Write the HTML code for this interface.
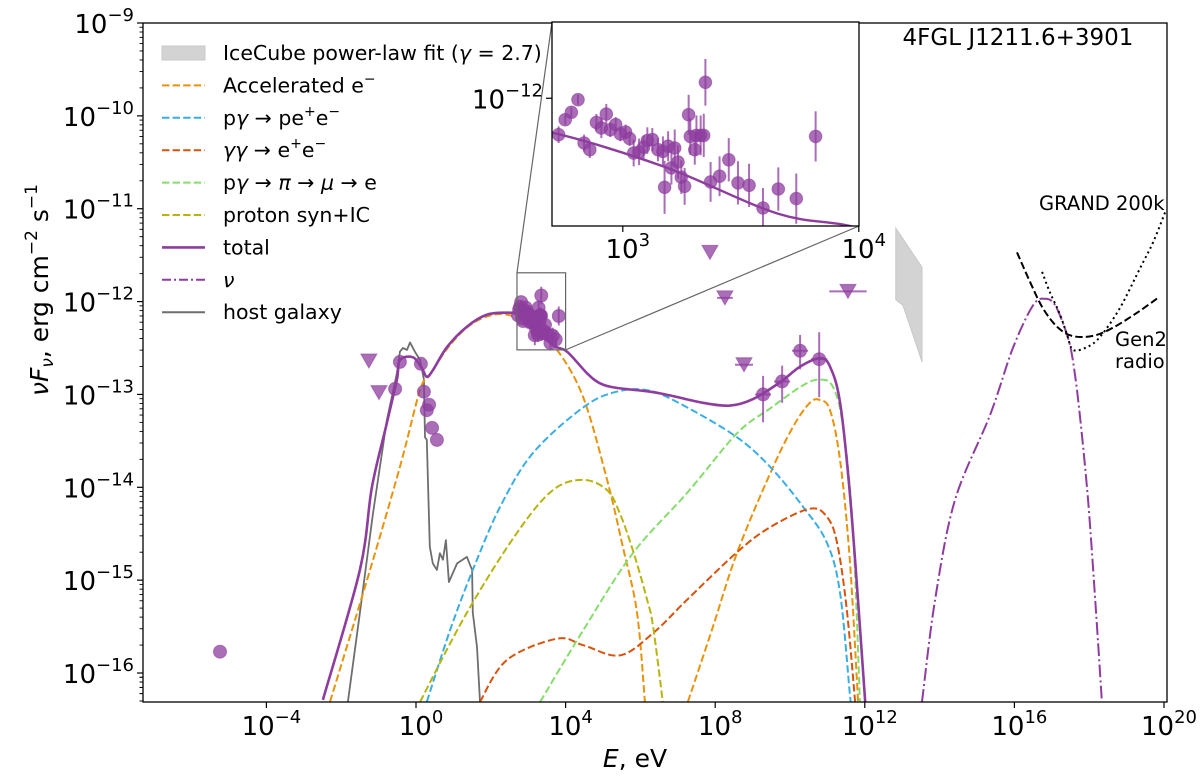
<!DOCTYPE html>
<html><head><meta charset="utf-8"><title>SED 4FGL J1211.6+3901</title>
<style>
html,body{margin:0;padding:0;background:#fff;overflow:hidden;width:1200px;height:784px;}
svg{display:block;overflow:hidden;font-family:"DejaVu Sans","Liberation Sans",sans-serif;}
</style></head>
<body>
<svg id="chart" width="1200" height="784" viewBox="0 0 1200 784" xmlns="http://www.w3.org/2000/svg">
<defs>
<clipPath id="mainClip"><rect x="143" y="23" width="1024" height="679"/></clipPath>
<clipPath id="insetClip"><rect x="552" y="22" width="307" height="204"/></clipPath>
</defs>
<rect x="0" y="0" width="1200" height="784" fill="#fff"/>
<g id="main" clip-path="url(#mainClip)"></g>
<g id="axes"></g>
<g id="legend"></g>
<g id="inset"></g>
</svg>
<script>
// ---------- data (log10 E [eV], log10 νFν [erg cm^-2 s^-1]) ----------
const totalE = [-2.49,-1.50,-1.18,-0.78,-0.51,-0.43,-0.08,0.16,0.29,0.45,0.83,1.36,1.90,2.43,2.70,3.18,3.66,4.04,4.57,4.92,5.37,6.26,6.79,7.67,8.40,9.01,9.73,10.27,10.80,11.07,11.34,11.60,11.87,12.01];
const totalF = [-16.29,-14.89,-14.00,-13.31,-12.84,-12.63,-12.60,-12.72,-12.81,-12.74,-12.49,-12.27,-12.14,-12.12,-12.14,-12.28,-12.47,-12.54,-12.77,-12.88,-12.93,-12.97,-13.01,-13.09,-13.12,-13.05,-12.87,-12.70,-12.61,-12.70,-13.09,-14.06,-15.50,-16.31];
const pairE = [0.29,0.91,1.52,2.25,3.13,4.47,5.37,6.26,7.25,8.58,9.47,10.35,10.99,11.34,11.60,11.63];
const pairF = [-16.31,-15.54,-14.89,-14.21,-13.63,-13.14,-12.97,-12.96,-13.14,-13.46,-13.78,-14.21,-14.60,-15.14,-16.22,-16.31];
const acc1E = [-2.30,-1.31,-0.43,0.11,0.37,0.83,1.36,1.90,2.43,3.05,3.77,4.47,5.11,5.53,5.91,6.12];
const acc1F = [-16.31,-15.00,-13.78,-12.95,-12.79,-12.51,-12.28,-12.16,-12.14,-12.25,-12.52,-13.03,-13.92,-14.64,-15.35,-16.31];
const acc2E = [7.27,7.94,8.58,9.47,10.08,10.53,10.80,11.07,11.34,11.60,11.82];
const acc2F = [-16.31,-15.50,-14.71,-13.85,-13.35,-13.09,-13.06,-13.17,-13.71,-14.78,-16.31];
const protE = [0.11,1.36,2.70,3.66,4.47,5.11,5.45,5.80,6.18,6.34,6.60];
const protF = [-16.31,-15.35,-14.49,-14.03,-13.92,-14.03,-14.28,-14.68,-15.21,-15.50,-16.31];
const pionE = [3.32,4.47,5.80,7.25,8.58,9.47,10.35,10.80,11.15,11.42,11.68,11.87];
const pionF = [-16.31,-15.54,-14.71,-14.06,-13.42,-13.15,-12.90,-12.84,-12.92,-13.35,-14.43,-16.31];
const ggE = [1.71,2.43,3.77,4.47,5.45,6.34,7.25,8.58,9.47,10.53,10.99,11.26,11.52,11.74];
const ggF = [-16.31,-15.86,-15.63,-15.70,-15.81,-15.57,-15.21,-14.70,-14.43,-14.23,-14.32,-14.60,-15.32,-16.31];
const hostE = [-1.82,-1.50,-1.15,-0.78,-0.51,-0.43,-0.35,-0.24,-0.16,-0.03,0.11,0.21,0.24,0.29,0.37,0.45,0.56,0.64,0.72,0.80,0.88,1.10,1.36,1.50,1.52,1.63,1.71];
const hostF = [-16.31,-15.35,-14.28,-13.28,-12.77,-12.54,-12.50,-12.52,-12.44,-12.54,-12.63,-12.84,-13.46,-13.49,-14.64,-14.82,-14.89,-14.71,-14.78,-14.57,-15.02,-14.82,-14.75,-14.89,-15.35,-15.72,-16.31];
const nuE = [13.53,13.88,14.41,15.35,15.96,16.50,16.82,17.09,17.41,17.57,17.75,17.97,18.16,18.34];
const nuF = [-16.31,-15.21,-14.14,-13.22,-12.50,-12.04,-11.97,-12.04,-12.36,-12.65,-13.22,-14.14,-15.21,-16.31];
const gen2E = [16.07,16.42,16.76,17.14,17.54,18.10,18.64,19.28,19.84];
const gen2F = [-11.47,-11.79,-12.07,-12.27,-12.37,-12.37,-12.28,-12.12,-11.96];
const grandE = [16.74,16.95,17.22,17.41,17.57,17.94,18.29,18.82,19.36,19.71,20.03];
const grandF = [-11.68,-11.90,-12.14,-12.36,-12.52,-12.49,-12.38,-12.07,-11.64,-11.36,-11.04];
const iceE = [12.83,13.53,13.53,13.29,13.02,12.83];
const iceF = [-11.21,-11.63,-12.65,-12.36,-12.04,-11.98];
// X-ray (inset) points
const xrE = [2.728,2.756,2.782,2.810,2.836,2.860,2.888,2.909,2.930,2.947,2.970,2.990,3.012,3.029,3.046,3.069,3.088,3.104,3.125,3.149,3.170,3.177,3.192,3.206,3.220,3.234,3.248,3.262,3.279,3.286,3.305,3.312,3.330,3.343,3.350,3.372,3.410,3.449,3.488,3.535,3.594,3.659,3.735,3.817];
const xrF = [-12.148,-12.087,-12.057,-12.006,-12.182,-12.209,-12.098,-12.121,-12.064,-12.128,-12.107,-12.145,-12.137,-12.164,-12.223,-12.218,-12.199,-12.172,-12.168,-12.209,-12.216,-12.362,-12.195,-12.283,-12.202,-12.259,-12.321,-12.358,-12.067,-12.155,-12.209,-12.151,-12.151,-12.151,-11.935,-12.340,-12.317,-12.250,-12.344,-12.354,-12.446,-12.369,-12.408,-12.155];
const xrErr = [0.034,0.02,0.02,0.02,0.034,0.034,0.034,0.041,0.041,0.03,0.03,0.03,0.03,0.03,0.054,0.054,0.047,0.054,0.047,0.047,0.061,0.108,0.061,0.068,0.075,0.068,0.068,0.075,0.081,0.075,0.061,0.081,0.081,0.088,0.095,0.081,0.081,0.088,0.088,0.088,0.081,0.088,0.102,0.102];
// other detections
const ptE = [-5.24,-0.43,-0.56,0.13,0.21,0.35,0.29,0.43,0.56];
const ptF = [-15.77,-12.65,-12.94,-12.67,-12.97,-13.11,-13.17,-13.36,-13.49];
const gamE = [9.28,9.79,10.27,10.78];
const gamF = [-13.00,-12.86,-12.53,-12.62];
const gamErrUp = [0.20,0.17,0.17,0.29];
const gamErrDn = [0.30,0.23,0.20,0.41];
// upper limits
const ulE = [-1.26,-0.99,7.86,8.26,8.77,11.55];
const ulF = [-12.64,-12.98,-11.47,-11.96,-12.68,-11.89];
const ulXerr = [0,0,0,0.21,0.24,0.5];
// axis ticks
const xTickExp = [-4,0,4,8,12,16,20];
const yTickExp = [-16,-15,-14,-13,-12,-11,-10,-9];

// ---------- scales ----------
const X = e => 416 + 37.4*e;
const Y = f => 23 + (-9 - f)*92.86;
const IX = e => 552 + (e-2.7)*236;
const IY = f => 22 + (-11.69 - f)*246;

const NS = "http://www.w3.org/2000/svg";
function mk(tag, attrs, parent){ const el=document.createElementNS(NS,tag); for(const k in attrs) el.setAttribute(k,attrs[k]); parent.appendChild(el); return el; }
function smooth(pts){
  let d = "M"+pts[0][0].toFixed(1)+","+pts[0][1].toFixed(1);
  for(let i=0;i<pts.length-1;i++){
    const p0=pts[Math.max(0,i-1)], p1=pts[i], p2=pts[i+1], p3=pts[Math.min(pts.length-1,i+2)];
    const c1x=p1[0]+(p2[0]-p0[0])/6, c1y=p1[1]+(p2[1]-p0[1])/6;
    const c2x=p2[0]-(p3[0]-p1[0])/6, c2y=p2[1]-(p3[1]-p1[1])/6;
    d+=" C"+c1x.toFixed(1)+","+c1y.toFixed(1)+" "+c2x.toFixed(1)+","+c2y.toFixed(1)+" "+p2[0].toFixed(1)+","+p2[1].toFixed(1);
  }
  return d;
}
function linear(pts){ return "M"+pts.map(p=>p[0].toFixed(1)+","+p[1].toFixed(1)).join(" L"); }
function pts(E,F,sx,sy){ return E.map((e,i)=>[sx(e),sy(F[i])]); }

const main = document.getElementById("main");
const axes = document.getElementById("axes");
const legend = document.getElementById("legend");
const inset = document.getElementById("inset");

const C = {total:"#8e3d9f", acc:"#e8930c", pair:"#3aaee2", gg:"#d9520b", pion:"#86dc6c", prot:"#b8b40e", host:"#6e6e6e", nu:"#8e3d9f"};
const dash = "7.4,3.2";

let el = mk("polygon",{points:iceE.map((e,i)=>X(e).toFixed(1)+","+Y(iceF[i]).toFixed(1)).join(" "), fill:"#d3d3d3", stroke:"#c8c8c8", "stroke-width":"1"}, main);



function curve(E,F,color,da,w,name,lin){
  const p = mk("path",{d:(lin?linear:smooth)(pts(E,F,X,Y)), fill:"none", stroke:color, "stroke-width":w, "stroke-dasharray":da||"none", "stroke-linejoin":"round"}, main);
  
  
}
curve(hostE,hostF,C.host,null,1.8,"host-galaxy-line",true);
curve(acc1E,acc1F,C.acc,dash,2,"accelerated-e-line-low");
curve(acc2E,acc2F,C.acc,dash,2,"accelerated-e-line-high");
curve(pairE,pairF,C.pair,dash,2,"bethe-heitler-line");
curve(ggE,ggF,C.gg,dash,2,"gamma-gamma-line");
curve(pionE,pionF,C.pion,dash,2,"pion-decay-line");
curve(protE,protF,C.prot,dash,2,"proton-syn-ic-line");
curve(totalE,totalF,C.total,null,2.6,"total-line");
curve(nuE,nuF,C.nu,"12.8,3.2,2,3.2",2,"neutrino-line");
curve(gen2E,gen2F,"#000",dash,2,"gen2-radio-sensitivity");
curve(grandE,grandF,"#000","2,3.3",2,"grand-200k-sensitivity");

const PC = "#8e3d9f";
function circle(parent,cx,cy,r,name){
  const c = mk("circle",{cx:cx.toFixed(1),cy:cy.toFixed(1),r:r,fill:PC,"fill-opacity":"0.75",stroke:PC,"stroke-opacity":"0.6"},parent);
  
  
}
function vbar(parent,x,y1,y2){ mk("line",{x1:x,x2:x,y1:y1,y2:y2,stroke:PC,"stroke-opacity":"0.75","stroke-width":"2"},parent); }
function hbar(parent,x1,x2,y){ mk("line",{x1:x1,x2:x2,y1:y,y2:y,stroke:PC,"stroke-opacity":"0.75","stroke-width":"2"},parent); }

xrE.forEach((e,i)=>{ vbar(main,X(e),Y(xrF[i]+xrErr[i]),Y(xrF[i]-xrErr[i])); circle(main,X(e),Y(xrF[i]),6.5,'xray-point'); });
ptE.forEach((e,i)=>{ circle(main,X(e),Y(ptF[i]),6.5,'optical-point'); });
gamE.forEach((e,i)=>{ vbar(main,X(e),Y(gamF[i]+gamErrUp[i]),Y(gamF[i]-gamErrDn[i])); hbar(main,X(e)-8,X(e)+8,Y(gamF[i])); circle(main,X(e),Y(gamF[i]),6.5,'fermi-point'); });
ulE.forEach((e,i)=>{
  const x=X(e), y=Y(ulF[i]);
  if(ulXerr[i]>0) hbar(main,X(e-ulXerr[i]),X(e+ulXerr[i]),y);
  const t = mk("polygon",{points:(x-8)+","+(y-7)+" "+(x+8)+","+(y-7)+" "+x+","+(y+7),fill:PC,"fill-opacity":"0.75",stroke:PC,"stroke-opacity":"0.6"},main);
  
  
});

mk("rect",{x:X(2.7),y:Y(-11.69),width:X(4)-X(2.7),height:Y(-12.52)-Y(-11.69),fill:"none",stroke:"#666","stroke-width":"1.2"},axes);
mk("line",{x1:X(2.7),y1:Y(-11.69),x2:552,y2:22,stroke:"#666","stroke-width":"1.2"},axes);
mk("line",{x1:X(4),y1:Y(-12.52),x2:859,y2:226,stroke:"#666","stroke-width":"1.2"},axes);

mk("rect",{x:143,y:23,width:1024,height:679,fill:"none",stroke:"#000","stroke-width":"1.3"},axes);
function sup(parent,x,y,base,exp,anchor,size,name){
  const t = mk("text",{x:x,y:y,"font-size":size,"text-anchor":anchor,fill:"#000"},parent);
  
  
  t.appendChild(document.createTextNode(base));
  const s = mk("tspan",{dy:-Math.round(size*0.45),"font-size":Math.round(size*0.7)},t);
  s.textContent = exp;
  return t;
}
const TF = 26;
xTickExp.forEach(k=>{
  const x=X(k);
  mk("line",{x1:x,x2:x,y1:702,y2:708,stroke:"#000","stroke-width":"1.2"},axes);
  sup(axes,x+5,735,"10",String(k).replace("-","−"),"middle",TF,'x-tick-label');
});
yTickExp.forEach(k=>{
  const y=Y(k);
  mk("line",{x1:137,x2:143,y1:y,y2:y,stroke:"#000","stroke-width":"1.2"},axes);
  sup(axes,134,y+10,"10",String(k).replace("-","−"),"end",TF,'y-tick-label');
  for(let m=2;m<=9;m++){
    const ym = Y(k-1+Math.log10(m));
    if(ym<702 && ym>23) mk("line",{x1:139.5,x2:143,y1:ym,y2:ym,stroke:"#000","stroke-width":"0.9"},axes);
  }
});
for(let m=2;m<=9;m++){ const ym=Y(-17+Math.log10(m)); if(ym<702) mk("line",{x1:139.5,x2:143,y1:ym,y2:ym,stroke:"#000","stroke-width":"0.9"},axes); }

let xt = mk("text",{x:635,y:767,"font-size":25,"text-anchor":"middle"},axes);


xt.innerHTML = '<tspan font-style="italic">E</tspan>, eV';
let yt = mk("text",{x:0,y:0,"font-size":25,"text-anchor":"middle",transform:"translate(48,290) rotate(-90)"},axes);


yt.innerHTML = '<tspan font-style="italic">νF</tspan><tspan font-style="italic" font-size="17" dy="5">ν</tspan><tspan dy="-5">, erg cm</tspan><tspan font-size="17" dy="-11">−2</tspan><tspan dy="11"> s</tspan><tspan font-size="17" dy="-11">−1</tspan>';

function label(x,y,txt,name,size,anchor){ const t=mk("text",{x:x,y:y,"font-size":size||19,"text-anchor":anchor||"start"},axes); t.textContent=txt;   }
label(1018,45,"4FGL J1211.6+3901","source-title",23,"middle");
label(1039,210,"GRAND 200k","grand-label",19.5);
label(1115,346,"Gen2","gen2-label",19.5);
label(1115,368,"radio","radio-label",19.5);

const legItems = [
  ["patch","#d3d3d3",null,'IceCube power-law fit (<tspan font-style="italic">γ</tspan> = 2.7)',"legend-icecube"],
  ["line",C.acc,dash,'Accelerated e<tspan font-size="14" dy="-9">−</tspan>',"legend-accelerated-e"],
  ["line",C.pair,dash,'p<tspan font-style="italic">γ</tspan> → pe<tspan font-size="14" dy="-9">+</tspan><tspan dy="9">e</tspan><tspan font-size="14" dy="-9">−</tspan>',"legend-bethe-heitler"],
  ["line",C.gg,dash,'<tspan font-style="italic">γγ</tspan> → e<tspan font-size="14" dy="-9">+</tspan><tspan dy="9">e</tspan><tspan font-size="14" dy="-9">−</tspan>',"legend-gamma-gamma"],
  ["line",C.pion,dash,'p<tspan font-style="italic">γ</tspan> → <tspan font-style="italic">π</tspan> → <tspan font-style="italic">μ</tspan> → e',"legend-pion"],
  ["line",C.prot,dash,'proton syn+IC',"legend-proton-syn-ic"],
  ["line",C.total,null,'total',"legend-total"],
  ["line",C.nu,"9,3,2,3",'<tspan font-style="italic">ν</tspan>',"legend-neutrino"],
  ["line",C.host,null,'host galaxy',"legend-host-galaxy"]
];
legItems.forEach((it,i)=>{
  const cy = 53 + i*32.4;
  const g = mk("g",{},legend);
  
  
  if(it[0]==="patch") mk("rect",{x:162,y:cy-7,width:43,height:14,fill:it[1],stroke:"#c8c8c8"},g);
  else mk("line",{x1:162,x2:205,y1:cy,y2:cy,stroke:it[1],"stroke-width":it[4]==="legend-total"?2.6:2,"stroke-dasharray":it[2]||"none"},g);
  const t = mk("text",{x:223,y:cy+7,"font-size":20.5},g);
  t.innerHTML = it[3];
});

mk("rect",{x:552,y:22,width:307,height:204,fill:"#fff"},inset);
const ig = mk("g",{"clip-path":"url(#insetClip)"},inset);
let ip = mk("path",{d:smooth(pts(totalE,totalF,IX,IY)),fill:"none",stroke:C.total,"stroke-width":2.4},ig);


xrE.forEach((e,i)=>{ vbar(ig,IX(e),IY(xrF[i]+xrErr[i]),IY(xrF[i]-xrErr[i])); circle(ig,IX(e),IY(xrF[i]),6.3,'inset-xray-point'); });
mk("rect",{x:552,y:22,width:307,height:204,fill:"none",stroke:"#000","stroke-width":"1.3"},inset);
[3,4].forEach(k=>{ mk("line",{x1:IX(k),x2:IX(k),y1:226,y2:232,stroke:"#000","stroke-width":"1.2"},inset); sup(inset,IX(k)+5,258,"10",String(k),"middle",TF,'inset-x-tick-label'); });
mk("line",{x1:546,x2:552,y1:IY(-12),y2:IY(-12),stroke:"#000","stroke-width":"1.2"},inset);
sup(inset,543,IY(-12)+10,"10","−12","end",TF,'inset-y-tick-label');
</script>
</body></html>
